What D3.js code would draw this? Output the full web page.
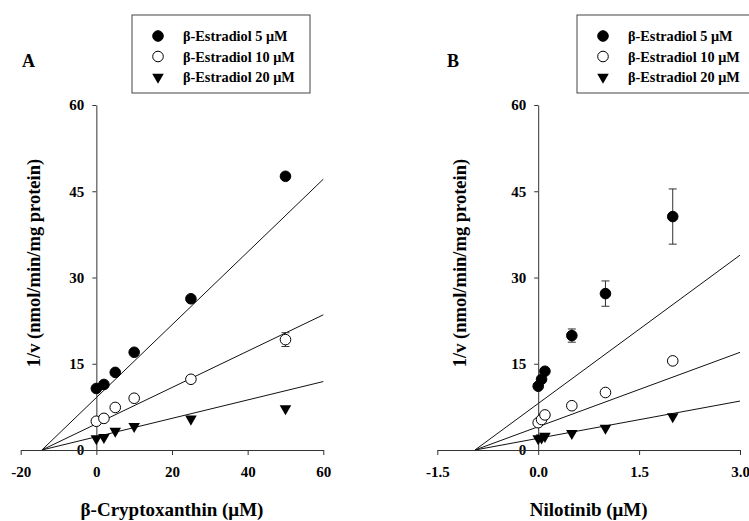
<!DOCTYPE html>
<html>
<head>
<meta charset="utf-8">
<script src="https://cdn.jsdelivr.net/npm/d3@7"></script>
<style>
  body { margin: 0; background: #fff; }
  svg { display: block; font-family: "Liberation Serif", "Times New Roman", serif; font-weight: bold; }
</style>
</head>
<body>
<svg width="749" height="521"></svg>
<script>
// series names (legend)
var seriesNames = ['β-Estradiol 5 μM', 'β-Estradiol 10 μM', 'β-Estradiol 20 μM'];
var seriesShapes = ['filled', 'open', 'triangle'];

// panel A: beta-cryptoxanthin
var xA = [0, 2, 5, 10, 25, 50];
var a5 = [10.7, 11.4, 13.5, 17.0, 26.3, 47.6];
var a10 = [5.0, 5.5, 7.4, 9.0, 12.3, 19.2];
var a20 = [2.0, 2.2, 3.3, 4.1, 5.4, 7.2];
var errA5 = [0, 0, 0, 0, 0.4, 0];
var errA10 = [0, 0, 0, 0, 0, 1.2];
var errA20 = [0, 0, 0, 0, 0, 0];
var slopesA = [0.633, 0.316, 0.160];
var xInterceptA = -14.4;
var xTicksA = [-20, 0, 20, 40, 60];

// panel B: nilotinib
var xB = [0, 0.05, 0.1, 0.5, 1, 2];
var b5 = [11.1, 12.3, 13.7, 19.9, 27.2, 40.6];
var b10 = [4.75, 5.3, 6.1, 7.7, 10.0, 15.5];
var b20 = [2.0, 2.1, 2.4, 2.9, 3.8, 5.8];
var errB5 = [0, 0, 0, 1.15, 2.2, 4.8];
var errB10 = [0, 0, 0, 0, 0, 0.3];
var errB20 = [0, 0, 0, 0, 0, 0];
var slopesB = [8.6, 4.31, 2.16];
var xInterceptB = -0.94;
var xTicksB = [-1.5, 0, 1.5, 3.0];

var yTicks = [0, 15, 30, 45, 60];

var svg = d3.select('svg');

// plain hyphen as minus sign, like the original figure
var loc = d3.formatLocale({decimal: '.', thousands: ',', grouping: [3], currency: ['', ''], minus: '-'});

function drawPanel(opt) {
  var x = d3.scaleLinear().domain(opt.xDomain).range(opt.xRange);
  var y = d3.scaleLinear().domain([0, 60]).range([450, 105]);
  var g = svg.append('g');

  // panel letter
  g.append('text').attr('x', opt.letterX).attr('y', 67)
    .attr('font-size', 18).text(opt.letter);

  // fitted lines
  var series = [opt.s5, opt.s10, opt.s20];
  opt.slopes.forEach(function(s) {
    var x1 = opt.xDomain[1];
    g.append('line')
      .attr('x1', x(opt.xInt)).attr('y1', y(0))
      .attr('x2', x(x1)).attr('y2', y(s * (x1 - opt.xInt)))
      .attr('stroke', '#111').attr('stroke-width', 1);
  });

  // axes
  var yAxis = d3.axisLeft(y).tickValues(yTicks).tickSize(4).tickSizeOuter(0).tickPadding(8);
  var xAxis = d3.axisBottom(x).tickValues(opt.xTicks).tickSize(5).tickSizeOuter(0).tickPadding(11)
    .tickFormat(loc.format(opt.xFormat));

  var ya = g.append('g').attr('transform', 'translate(' + x(0) + ',0)').call(yAxis);
  var xa = g.append('g').attr('transform', 'translate(0,' + y(0) + ')').call(xAxis);
  [ya, xa].forEach(function(a) {
    a.attr('font-family', null).attr('font-size', null);
    a.selectAll('path, line').attr('stroke', '#333');
    a.selectAll('text')
      .attr('font-size', 15).attr('font-weight', 'bold')
      .attr('font-family', '"Liberation Serif", serif').attr('fill', '#000');
  });

  // error bars and markers
  series.forEach(function(vals, k) {
    var errs = opt.errs[k];
    vals.forEach(function(v, i) {
      if (errs[i] > 0) {
        var cx = x(opt.xs[i]);
        g.append('line').attr('x1', cx).attr('x2', cx)
          .attr('y1', y(v - errs[i])).attr('y2', y(v + errs[i]))
          .attr('stroke', '#333');
        [v - errs[i], v + errs[i]].forEach(function(e) {
          g.append('line').attr('x1', cx - 4).attr('x2', cx + 4)
            .attr('y1', y(e)).attr('y2', y(e)).attr('stroke', '#333');
        });
      }
    });
    vals.forEach(function(v, i) {
      drawMarker(g, seriesShapes[k], x(opt.xs[i]), y(v));
    });
  });

  // axis titles
  g.append('text')
    .attr('transform', 'translate(' + opt.yLabelX + ',263) rotate(-90)')
    .attr('text-anchor', 'middle').attr('font-size', 18.5)
    .text('1/v (nmol/min/mg protein)');
  g.append('text')
    .attr('x', (opt.xRange[0] + opt.xRange[1]) / 2).attr('y', 516)
    .attr('text-anchor', 'middle').attr('font-size', 19)
    .text(opt.xLabel);

  // legend
  var lg = g.append('g').attr('transform', 'translate(' + opt.legendX + ',15)');
  lg.append('rect').attr('width', 178).attr('height', 78)
    .attr('fill', '#fff').attr('stroke', '#444').attr('stroke-width', 1);
  seriesNames.forEach(function(name, k) {
    var ry = 21 + k * 20.5;
    drawMarker(lg, seriesShapes[k], 26, ry);
    lg.append('text').attr('x', 51).attr('y', ry + 5)
      .attr('font-size', 14.3).text(name);
  });
}

function drawMarker(g, shape, cx, cy) {
  if (shape === 'triangle') {
    g.append('path')
      .attr('d', d3.symbol().type(d3.symbolTriangle).size(58)())
      .attr('transform', 'translate(' + cx + ',' + cy + ') rotate(180)')
      .attr('fill', '#000');
  } else {
    g.append('circle').attr('cx', cx).attr('cy', cy).attr('r', 5.3)
      .attr('fill', shape === 'filled' ? '#000' : '#fff')
      .attr('stroke', '#000').attr('stroke-width', 1);
  }
}

drawPanel({
  letter: 'A', letterX: 22,
  xDomain: [-20, 60], xRange: [20.7, 323.3], xTicks: xTicksA,
  xFormat: 'd',
  xs: xA, s5: a5, s10: a10, s20: a20, errs: [errA5, errA10, errA20],
  slopes: slopesA, xInt: xInterceptA,
  yLabelX: 40, xLabel: 'β-Cryptoxanthin (μM)', legendX: 132
});

drawPanel({
  letter: 'B', letterX: 447,
  xDomain: [-1.5, 3.0], xRange: [437.3, 740], xTicks: xTicksB,
  xFormat: '.1f',
  xs: xB, s5: b5, s10: b10, s20: b20, errs: [errB5, errB10, errB20],
  slopes: slopesB, xInt: xInterceptB,
  yLabelX: 466, xLabel: 'Nilotinib (μM)', legendX: 577
});
</script>
</body>
</html>
